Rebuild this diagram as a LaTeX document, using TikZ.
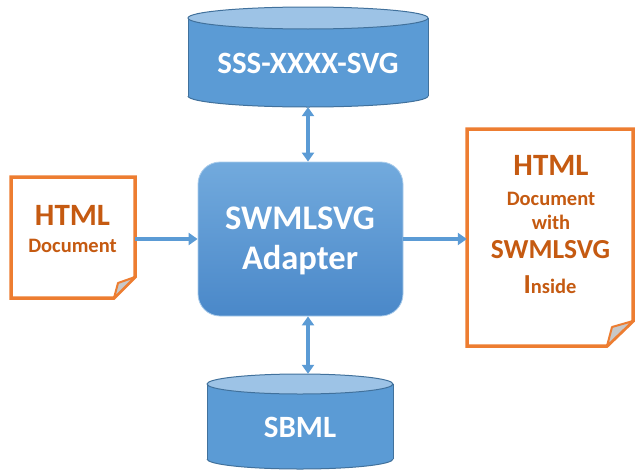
\documentclass[tikz,border=0pt]{standalone}
\usepackage{fontspec}
\setmainfont{Carlito}
\usetikzlibrary{arrows.meta}
\definecolor{cylfill}{HTML}{5B9BD5}
\definecolor{cyltopc}{HTML}{9DC3E6}
\definecolor{cyledge}{HTML}{41719C}
\definecolor{docorange}{HTML}{ED7D31}
\definecolor{doctext}{HTML}{C55A11}
\definecolor{arrowblue}{HTML}{5B9BD5}
\definecolor{boxtop}{HTML}{72AADD}
\definecolor{boxbot}{HTML}{4A88C9}
\definecolor{foldgray}{HTML}{C8C8C8}
\newcommand\mycyl[6]{% cx, ytop, ybot, rx, ry, name
  \fill[cylfill] (#1-#4,#2) rectangle (#1+#4,#3);
  \fill[cylfill] (#1,#3) ellipse [x radius=#4, y radius=#5];
  \begin{scope}
    \clip (#1-#4-3,#3) rectangle (#1+#4+3,#3+#5+3);
    \draw[cylline] (#1,#3) ellipse [x radius=#4, y radius=#5];
  \end{scope}
  \draw[cylline] (#1-#4,#2) -- (#1-#4,#3) (#1+#4,#2) -- (#1+#4,#3);
  \filldraw[cylline, fill=cyltopc] (#1,#2) ellipse [x radius=#4, y radius=#5];
  \node[inner sep=0, minimum width=2*#4, minimum height=#3-#2+2*#5] (#6) at (#1,{(#2+#3)/2}) {};
}
\begin{document}
\begin{tikzpicture}[x=1pt,y=-1pt,
  cylline/.style={draw=cyledge,line width=1pt},
  docline/.style={draw=docorange,line width=3.5pt,fill=white,line join=miter},
  docfold/.style={draw=docorange,line width=2pt,fill=foldgray,line join=round},
  flow/.style={draw=arrowblue,line width=3.5pt,-{Triangle[length=9pt,width=12pt]}},
  bothflow/.style={draw=arrowblue,line width=3.5pt,{Triangle[length=9pt,width=12pt]}-{Triangle[length=9pt,width=12pt]}},
  wtext/.style={anchor=base,text=white,font=\bfseries\fontsize{31}{31}\selectfont,inner sep=0},
  otext/.style={anchor=base,text=doctext,font=\bfseries\fontsize{20.5}{20.5}\selectfont,inner sep=0},
  obig/.style={anchor=base,text=doctext,font=\bfseries\fontsize{31}{31}\selectfont,inner sep=0},
  adapter/.style={rounded corners=22pt,minimum width=205pt,minimum height=154pt,
    top color=boxtop,bottom color=boxbot,draw=boxtop!60!white,line width=0.8pt}
]
\useasboundingbox (0,0) rectangle (636,471);

% cylinders
\mycyl{308}{18}{96}{120}{11}{topdb}
\node[wtext] (toptext) at (308,73) {SSS-XXXX-SVG};
\mycyl{300}{384}{459}{93}{10}{botdb}
\node[wtext] (bottext) at (300,437) {SBML};

% adapter box
\node[adapter] (box) at (300.5,239) {};
\node[wtext,font=\bfseries\fontsize{34.5}{34.5}\selectfont] (boxt1) at (300,229) {SWMLSVG};
\node[wtext,font=\bfseries\fontsize{34.5}{34.5}\selectfont] (boxt2) at (300,269) {Adapter};

% left document
\draw[docline] (11,177) -- (135,177) -- (135,277) -- (114,298) -- (11,298) -- cycle;
\filldraw[docfold] (114,298) -- (118,283) -- (135,277) -- cycle;
\node[inner sep=0,minimum width=124pt,minimum height=121pt] (ldoc) at (73,237.5) {};
\node[obig] (lt1) at (72.5,225) {HTML};
\node[otext] (lt2) at (72.5,252) {Document};

% right document
\draw[docline] (467,129) -- (633,129) -- (633,321) -- (607,346) -- (467,346) -- cycle;
\filldraw[docfold] (607,346) -- (612,327) -- (633,321) -- cycle;
\node[inner sep=0,minimum width=166pt,minimum height=217pt] (rdoc) at (550,237.5) {};
\node[obig] (rt1) at (551,175) {HTML};
\node[otext] (rt2) at (551,205) {Document};
\node[otext] (rt3) at (551,229) {with};
\node[obig,font=\bfseries\fontsize{27.5}{27.5}\selectfont] (rt4) at (550.5,258) {SWMLSVG};
\node[otext] (rt5) at (550,293) {{\fontsize{27.5}{27.5}\selectfont I}nside};

% connectors
\draw[flow] (ldoc.east |- box.west) -- (box.west);
\draw[flow] (box.east) -- (rdoc.west |- box.east);
\draw[bothflow] (topdb.south) -- (topdb.south |- box.north);
\draw[bothflow] (topdb.south |- box.south) -- (topdb.south |- botdb.north);
\end{tikzpicture}
\end{document}
